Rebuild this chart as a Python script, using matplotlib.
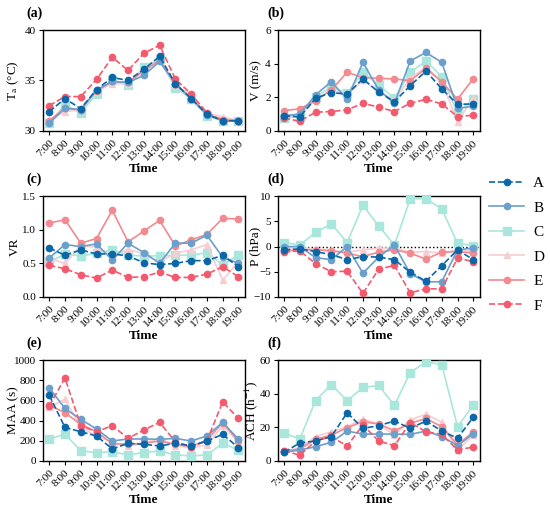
import matplotlib
matplotlib.use("Agg")
import matplotlib.pyplot as plt
from matplotlib.lines import Line2D

plt.rcParams['font.family'] = ['Liberation Serif', 'DejaVu Serif']
plt.rcParams['mathtext.fontset'] = 'stix'

times = ["7:00", "8:00", "9:00", "10:00", "11:00", "12:00", "13:00",
         "14:00", "15:00", "16:00", "17:00", "18:00", "19:00"]
series_names = ["A", "B", "C", "D", "E", "F"]

# (a) Ta
ta_A = [31.9, 33.2, 32.2, 34.1, 35.3, 35.0, 36.1, 37.4, 34.7, 33.2, 31.65, 31.0, 31.0]
ta_B = [30.75, 32.25, 32.1, 34.05, 34.9, 34.8, 35.5, 36.9, 34.65, 33.2, 31.6, 31.0, 31.0]
ta_C = [30.75, 32.6, 31.75, 33.7, 35.05, 34.55, 36.35, 37.1, 34.3, 33.15, 31.5, 31.0, 31.0]
ta_D = [31.1, 31.9, 32.1, 33.9, 34.7, 34.65, 35.9, 36.9, 34.55, 33.2, 31.75, 31.4, 31.0]
ta_E = [31.0, 32.25, 32.1, 34.0, 34.9, 34.8, 36.0, 37.0, 34.7, 33.3, 31.65, 31.1, 31.0]
ta_F = [32.5, 33.4, 33.4, 35.1, 37.3, 36.0, 37.7, 38.5, 35.15, 33.65, 31.8, 31.0, 31.0]

# (b) V
v_A = [0.9, 0.83, 1.94, 2.28, 2.18, 3.1, 2.3, 1.74, 2.69, 3.56, 2.5, 1.58, 1.6]
v_B = [0.9, 1.0, 2.14, 2.93, 1.88, 4.08, 2.44, 1.64, 4.16, 4.67, 4.08, 1.35, 1.45]
v_C = [0.75, 0.85, 2.04, 2.6, 2.24, 3.49, 2.73, 1.94, 3.49, 4.16, 3.23, 1.05, 1.88]
v_D = [0.85, 0.95, 1.84, 2.44, 2.14, 3.03, 2.34, 1.84, 3.13, 3.82, 2.93, 0.55, 1.94]
v_E = [1.21, 1.31, 1.8, 2.44, 3.49, 3.17, 3.13, 3.09, 2.99, 3.72, 2.93, 1.88, 3.11]
v_F = [0.75, 0.57, 1.11, 1.15, 1.25, 1.64, 1.41, 1.15, 1.64, 1.88, 1.6, 0.85, 0.93]

# (c) VR
vr_A = [0.73, 0.62, 0.70, 0.64, 0.64, 0.61, 0.51, 0.48, 0.50, 0.54, 0.54, 0.62, 0.45]
vr_B = [0.58, 0.78, 0.75, 0.79, 0.55, 0.80, 0.66, 0.50, 0.80, 0.80, 0.92, 0.59, 0.50]
vr_C = [0.52, 0.64, 0.61, 0.65, 0.70, 0.62, 0.61, 0.61, 0.62, 0.62, 0.66, 0.48, 0.62]
vr_D = [0.57, 0.50, 0.76, 0.74, 0.61, 0.71, 0.64, 0.52, 0.65, 0.70, 0.78, 0.25, 0.52]
vr_E = [1.10, 1.15, 0.80, 0.87, 1.29, 0.82, 0.98, 1.14, 0.76, 0.85, 0.93, 1.17, 1.16]
vr_F = [0.47, 0.42, 0.33, 0.28, 0.40, 0.29, 0.30, 0.37, 0.29, 0.29, 0.34, 0.45, 0.30]

# (d) P
p_A = [-0.66, -0.46, -1.0, -1.6, -2.6, -2.0, -2.1, -2.6, -5.1, -6.9, -3.8, -0.66, -2.6]
p_B = [0.0, 0.0, -2.2, -2.6, 0.0, -5.3, -2.1, 0.3, -5.4, -7.0, -7.0, -0.66, -0.3]
p_C = [0.8, 0.3, 2.8, 4.5, 0.8, 8.2, 4.1, 0.3, 9.5, 9.5, 7.5, 0.66, 0.2]
p_D = [-0.3, -0.2, -0.5, -0.7, -1.1, -0.7, -0.3, -0.3, -1.1, -1.0, -1.3, -0.7, -1.0]
p_E = [-0.85, -0.66, -0.66, -0.85, -1.3, -2.0, -1.1, -0.66, -1.3, -2.5, -1.1, -1.0, -1.3]
p_F = [-1.1, -0.85, -3.4, -5.0, -4.9, -9.3, -4.5, -3.75, -9.2, -8.4, -8.4, -2.3, -3.0]

# (e) MAA
maa_A = [653, 333, 290, 248, 119, 175, 165, 149, 175, 149, 198, 264, 132]
maa_B = [726, 521, 413, 317, 198, 218, 218, 215, 224, 198, 248, 383, 215]
maa_C = [215, 267, 99, 83, 92, 59, 83, 99, 59, 50, 59, 175, 109]
maa_D = [531, 614, 333, 248, 185, 149, 175, 224, 149, 132, 158, 350, 185]
maa_E = [554, 479, 363, 290, 172, 165, 175, 198, 165, 142, 208, 380, 198]
maa_F = [545, 825, 350, 290, 350, 224, 307, 383, 191, 142, 198, 587, 422]

# (f) ACH
ach_A = [5.1, 10.7, 11.9, 14.5, 28.7, 19.4, 21.0, 23.8, 19.4, 23.8, 17.8, 13.5, 26.1]
ach_B = [5.1, 6.5, 8.5, 11.1, 17.8, 16.0, 16.0, 16.0, 15.8, 17.8, 14.5, 9.1, 16.2]
ach_C = [16.6, 13.1, 36.0, 45.5, 35.8, 43.8, 45.0, 33.1, 52.7, 59.0, 57.4, 20.4, 33.3]
ach_D = [5.9, 7.5, 14.5, 17.4, 20.4, 25.0, 21.8, 15.4, 24.4, 27.9, 23.0, 6.5, 15.4]
ach_E = [5.9, 7.1, 12.9, 15.4, 19.8, 23.4, 22.0, 18.0, 22.4, 25.3, 20.4, 9.5, 17.4]
ach_F = [6.1, 3.4, 11.9, 14.5, 8.9, 21.4, 11.9, 9.1, 22.8, 17.4, 15.8, 6.5, 8.3]

styles = {
    "A": dict(color="#0b67a8", ls="--", marker="o", ms=4.5, lw=1.2),
    "B": dict(color="#6b9fcc", ls="-", marker="o", ms=4.5, lw=1.2),
    "C": dict(color="#a9e6dc", ls="-", marker="s", ms=5.5, lw=1.2),
    "D": dict(color="#f7cdd2", ls="-", marker="^", ms=5, lw=1.2),
    "E": dict(color="#f28a8f", ls="-", marker="o", ms=4.5, lw=1.2),
    "F": dict(color="#f45a6d", ls="--", marker="o", ms=4.5, lw=1.2),
}
draw_order = ["C", "D", "E", "B", "F", "A"]

panels = [
    ("(a)", "T$_\\mathrm{a}$ (\u00b0C)", (30, 40), [30, 35, 40], None,
     dict(A=ta_A, B=ta_B, C=ta_C, D=ta_D, E=ta_E, F=ta_F), -0.109),
    ("(b)", "V (m/s)", (0, 6), [0, 2, 4, 6], None,
     dict(A=v_A, B=v_B, C=v_C, D=v_D, E=v_E, F=v_F), -0.076),
    ("(c)", "VR", (0, 1.5), [0.0, 0.5, 1.0, 1.5], "%.1f",
     dict(A=vr_A, B=vr_B, C=vr_C, D=vr_D, E=vr_E, F=vr_F), -0.109),
    ("(d)", "P (hPa)", (-10, 10), [-10, -5, 0, 5, 10], None,
     dict(A=p_A, B=p_B, C=p_C, D=p_D, E=p_E, F=p_F), -0.08),
    ("(e)", "MAA (s)", (0, 1000), [0, 200, 400, 600, 800, 1000], None,
     dict(A=maa_A, B=maa_B, C=maa_C, D=maa_D, E=maa_E, F=maa_F), -0.119),
    ("(f)", "ACH (h$^{-1}$)", (0, 60), [0, 20, 40, 60], None,
     dict(A=ach_A, B=ach_B, C=ach_C, D=ach_D, E=ach_E, F=ach_F), -0.086),
]

fig = plt.figure(figsize=(5.5, 5.11), dpi=100)
lefts = [0.078, 0.505]
bottoms = [0.744, 0.419, 0.098]
w = 0.367
h = 0.197
tag_x = [-0.08, -0.05]

x = list(range(len(times)))
for i, (tag, ylab, ylim, yt, fmt, data, ylx) in enumerate(panels):
    r, c = divmod(i, 2)
    ax = fig.add_axes([lefts[c], bottoms[r], w, h])
    if tag == "(d)":
        ax.axhline(0, color="black", ls=":", lw=1.0, zorder=1)
    for name in draw_order:
        ax.plot(x, data[name], zorder=3, **styles[name])
    ax.set_xlim(-0.4, len(times) - 0.6)
    ax.set_ylim(*ylim)
    ax.set_yticks(yt)
    if fmt:
        ax.set_yticklabels([fmt % v for v in yt])
    ax.set_xticks(x)
    ax.set_xticklabels(times, rotation=45, ha="right", rotation_mode="anchor")
    ax.tick_params(axis="both", labelsize=8, direction="out", length=3, width=0.8, pad=2)
    ax.set_xlabel("Time", fontsize=9.5, fontweight="bold", labelpad=1)
    ax.set_ylabel(ylab, fontsize=9.5)
    ax.yaxis.set_label_coords(ylx, 0.5)
    for sp in ax.spines.values():
        sp.set_linewidth(1.0)
    ax.text(tag_x[c], 1.1, tag, transform=ax.transAxes, fontsize=10,
            fontweight="bold", ha="left", va="bottom")

handles = [Line2D([0], [0], **styles[n]) for n in series_names]
fig.legend(handles, series_names, loc="upper left",
           bbox_to_anchor=(0.889, 0.655), frameon=False, fontsize=11,
           handlelength=2.3, labelspacing=0.71, handletextpad=0.6,
           borderpad=0, borderaxespad=0)

fig.savefig("out.png", dpi=100)
